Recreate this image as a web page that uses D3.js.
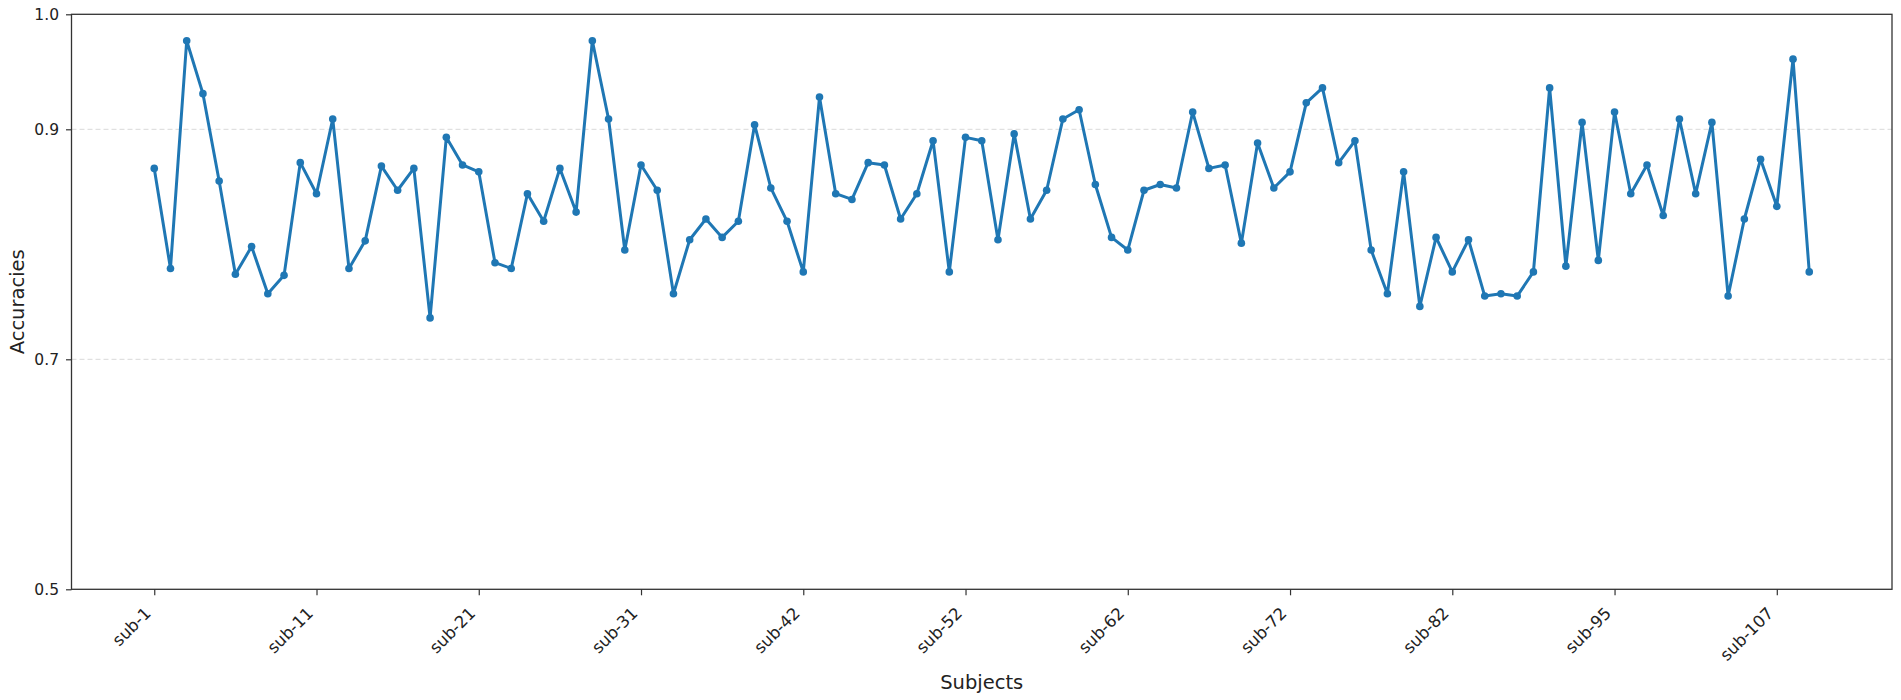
<!DOCTYPE html>
<html>
<head>
<meta charset="utf-8">
<script src="https://cdn.jsdelivr.net/npm/d3@7"></script>
<style>
  html, body { margin: 0; padding: 0; background: #fff; }
  svg { display: block; font-family: "DejaVu Sans", sans-serif; }
  .tick text { font-family: "DejaVu Sans", sans-serif; }
</style>
</head>
<body>
<svg id="chart" width="1901" height="700"></svg>
<script>
// Subject IDs (subjects 38, 88, 89, 92, 100, 104 absent)
const subjectIds = [
  1,2,3,4,5,6,7,8,9,10,11,12,13,14,15,16,17,18,19,20,
  21,22,23,24,25,26,27,28,29,30,31,32,33,34,35,36,37,39,40,41,
  42,43,44,45,46,47,48,49,50,51,52,53,54,55,56,57,58,59,60,61,
  62,63,64,65,66,67,68,69,70,71,72,73,74,75,76,77,78,79,80,81,
  82,83,84,85,86,87,90,91,93,94,95,96,97,98,99,101,102,103,105,106,
  107,108,109
];
const categories = subjectIds.map(id => "sub-" + id);

const accuracies = [
  0.866, 0.779, 0.977, 0.931, 0.855, 0.774, 0.798, 0.757, 0.773, 0.871,
  0.844, 0.909, 0.779, 0.803, 0.868, 0.847, 0.866, 0.736, 0.893, 0.869,
  0.863, 0.784, 0.779, 0.844, 0.820, 0.866, 0.828, 0.977, 0.909, 0.795,
  0.869, 0.847, 0.757, 0.804, 0.822, 0.806, 0.820, 0.904, 0.849, 0.820,
  0.776, 0.928, 0.844, 0.839, 0.871, 0.869, 0.822, 0.844, 0.890, 0.776,
  0.893, 0.890, 0.804, 0.896, 0.822, 0.847, 0.909, 0.917, 0.852, 0.806,
  0.795, 0.847, 0.852, 0.849, 0.915, 0.866, 0.869, 0.801, 0.888, 0.849,
  0.863, 0.923, 0.936, 0.871, 0.890, 0.795, 0.757, 0.863, 0.746, 0.806,
  0.776, 0.804, 0.755, 0.757, 0.755, 0.776, 0.936, 0.781, 0.906, 0.786,
  0.915, 0.844, 0.869, 0.825, 0.909, 0.844, 0.906, 0.755, 0.822, 0.874,
  0.833, 0.961, 0.776
];

const yTicks = [0.5, 0.7, 0.9, 1.0];
const yGrid = [0.7, 0.9];
const xTickEvery = 10;
const xLabel = "Subjects";
const yLabel = "Accuracies";

(function () {
const svg = d3.select("#chart");
const mL = 71.5, mR = 1892, mT = 14.3, mB = 589.3;
const n = accuracies.length;
const pad = (n - 1) * 0.05;

const x = d3.scaleLinear().domain([-pad, n - 1 + pad]).range([mL, mR]);
const y = d3.scaleLinear().domain([0.5, 1.0]).range([mB, mT]);

// grid
svg.append("g").selectAll("line").data(yGrid).join("line")
  .attr("x1", mL).attr("x2", mR)
  .attr("y1", d => y(d)).attr("y2", d => y(d))
  .attr("stroke", "#d9d9d9").attr("stroke-width", 1)
  .attr("stroke-dasharray", "5,3");

// line + markers
const line = d3.line().x((d, i) => x(i)).y(d => y(d));
svg.append("path").datum(accuracies)
  .attr("d", line).attr("fill", "none")
  .attr("stroke", "#1f77b4").attr("stroke-width", 3)
  .attr("stroke-linejoin", "round");
svg.append("g").selectAll("circle").data(accuracies).join("circle")
  .attr("cx", (d, i) => x(i)).attr("cy", d => y(d)).attr("r", 3.8)
  .attr("fill", "#1f77b4");

// axes
const tickIdx = d3.range(0, n, xTickEvery);
const xAxis = d3.axisBottom(x).tickValues(tickIdx)
  .tickFormat(i => categories[i]).tickSize(6).tickPadding(4);
const gx = svg.append("g").attr("transform", `translate(0,${mB})`).call(xAxis);
gx.attr("font-size", 16.5).attr("font-family", "DejaVu Sans, sans-serif");
gx.select(".domain").remove();
gx.selectAll(".tick line").attr("stroke", "#333").attr("stroke-width", 1.2);
gx.selectAll(".tick text")
  .style("font-size", "16.5px").attr("fill", "#222")
  .attr("text-anchor", "end")
  .attr("dy", "0.35em")
  .attr("transform", "translate(-7,21) rotate(-45)")
  .attr("y", 0).attr("x", 0);

const yAxis = d3.axisLeft(y).tickValues(yTicks)
  .tickFormat(d3.format(".1f")).tickSize(5.5).tickPadding(7);
const gy = svg.append("g").attr("transform", `translate(${mL},0)`).call(yAxis);
gy.attr("font-size", 15.5).attr("font-family", "DejaVu Sans, sans-serif");
gy.select(".domain").remove();
gy.selectAll(".tick line").attr("stroke", "#333").attr("stroke-width", 1.2);
gy.selectAll(".tick text").style("font-size", "15.5px").attr("fill", "#222");

// frame
svg.append("rect")
  .attr("x", mL).attr("y", mT)
  .attr("width", mR - mL).attr("height", mB - mT)
  .attr("fill", "none").attr("stroke", "#333").attr("stroke-width", 1.3);

// labels
svg.append("text").text(xLabel)
  .attr("x", (mL + mR) / 2).attr("y", 689)
  .attr("text-anchor", "middle").style("font-size", "19.5px").attr("fill", "#222");
svg.append("text").text(yLabel)
  .attr("transform", `translate(24,${(mT + mB) / 2}) rotate(-90)`)
  .attr("text-anchor", "middle").style("font-size", "19.5px").attr("fill", "#222");
})();
</script>
</body>
</html>
